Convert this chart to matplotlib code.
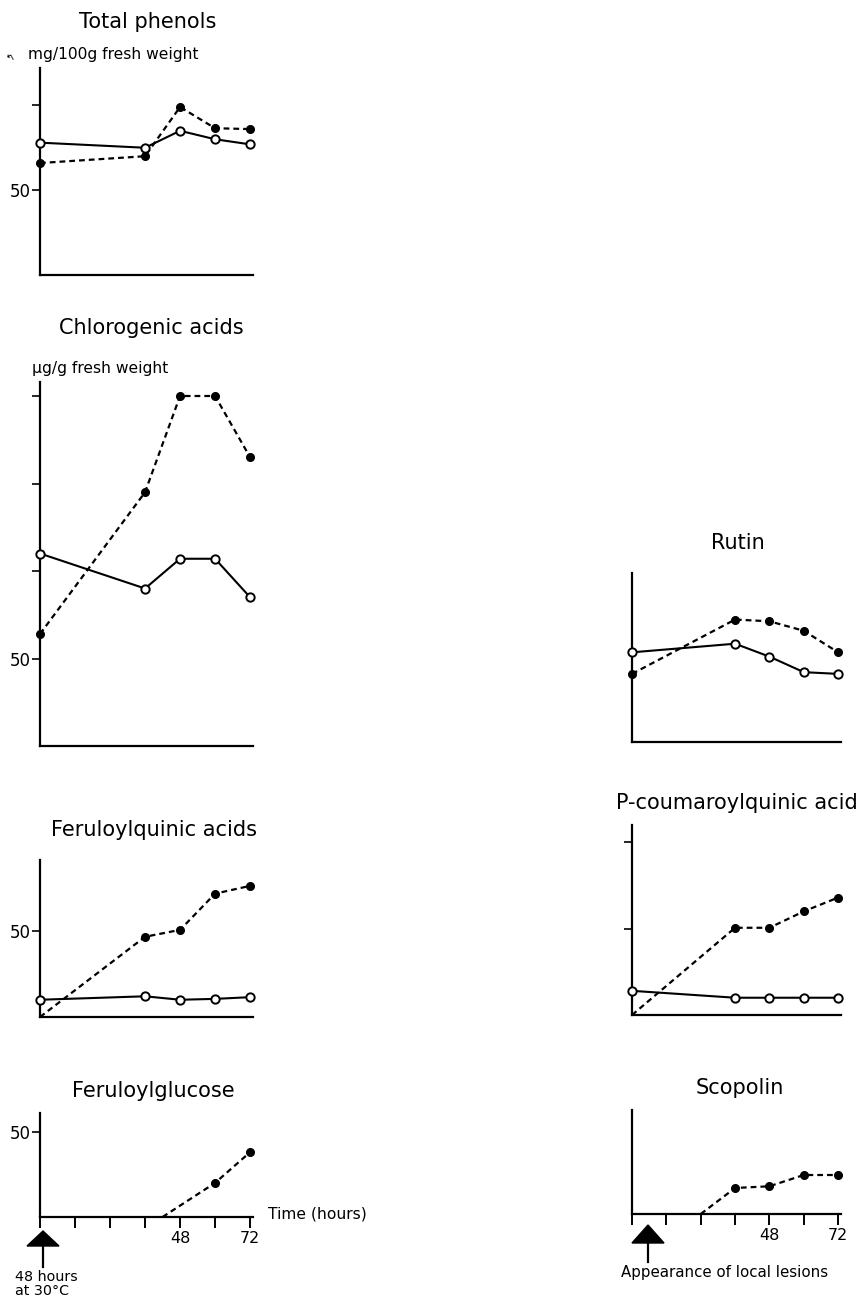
import matplotlib
matplotlib.use('Agg')
import matplotlib.pyplot as plt
from matplotlib.patches import Polygon

plt.rcParams['font.family'] = ['DejaVu Sans']

W, H = 866, 1300

# sampling times (hours)
times = [0, 36, 48, 60, 72]

# total phenols, mg/100g fresh weight
phenols_ctrl = [78, 75, 85, 80, 77]
phenols_inf = [66, 70, 99, 86.5, 86]

# chlorogenic acids, ug/g fresh weight
chloro_ctrl = [110, 90, 107, 107, 85]
chloro_inf = [64, 145, 200, 200, 165]

# feruloylquinic acids
ferq_ctrl = [10, 12, 10, 10.5, 11.5]
ferq_inf = [0, 46.5, 50.5, 71.5, 76]

# feruloylglucose
ferg_times = [42, 60, 72]
ferg_inf = [0, 20, 38]

# rutin
rutin_ctrl = [52, 57, 49.5, 40.5, 39.5]
rutin_inf = [39.5, 71, 70, 64.5, 52]

# p-coumaroylquinic acid
pcq_ctrl = [14, 10, 10, 10, 10]
pcq_inf = [0, 50.5, 50.5, 60, 68]

# scopolin
scop_times = [24, 36, 48, 60, 72]
scop_inf = [0, 15, 16, 22.5, 22.5]

time_ticks = [0, 12, 24, 36, 48, 60, 72]
time_labels = ['', '', '', '', '48', '', '72']

fig = plt.figure(figsize=(W / 100, H / 100), dpi=100)
fig.patch.set_facecolor('white')

TITLE = 15


def panel(left, top, bottom, xpx, ytop):
    ax = fig.add_axes([left / W, 1 - bottom / H, xpx / W, (bottom - top) / H])
    ax.set_xlim(0, 73)
    ax.set_ylim(0, ytop)
    for s in ('top', 'right'):
        ax.spines[s].set_visible(False)
    for s in ('left', 'bottom'):
        ax.spines[s].set_linewidth(1.6)
    ax.set_xticks([])
    ax.set_yticks([])
    ax.tick_params(axis='y', length=6, width=1.2, labelsize=12, pad=1)
    ax.patch.set_alpha(0)
    return ax


def ftext(x, y, s, **kw):
    fig.text(x / W, 1 - y / H, s, **kw)


def solid(ax, x, y):
    ax.plot(x, y, '-', color='black', lw=1.5, marker='o', ms=6,
            mfc='white', mec='black', mew=1.4, clip_on=False, zorder=4)


def dashed(ax, x, y, first_marker=True):
    ax.plot(x, y, color='black', lw=1.6, dashes=(2.6, 1.8), clip_on=False, zorder=3)
    xs, ys = (x, y) if first_marker else (x[1:], y[1:])
    ax.plot(xs, ys, 'o', color='black', ms=5.5, clip_on=False, zorder=5)


def time_axis(ax):
    ax.set_xticks(time_ticks)
    ax.set_xticklabels(time_labels)
    ax.tick_params(axis='x', length=8, width=1.4, direction='out', labelsize=11.5, pad=2)


LX, LW = 40, 213
RX, RW = 632, 209

# left column
ax1 = panel(LX, 68, 275, LW, 122)
solid(ax1, times, phenols_ctrl)
dashed(ax1, times, phenols_inf)
ax1.set_yticks([50, 100])
ax1.set_yticklabels(['50', ''])
ftext(148, 22, 'Total phenols', fontsize=TITLE, ha='center', va='center')
ftext(28, 55, 'mg/100g fresh weight', fontsize=11.2, ha='left', va='center')
ftext(10, 57, '\u21b0', fontsize=7, ha='center', va='center', rotation=30)

ax2 = panel(LX, 382, 746, LW, 208)
solid(ax2, times, chloro_ctrl)
dashed(ax2, times, chloro_inf)
ax2.set_yticks([50, 100, 150, 200])
ax2.set_yticklabels(['50', '', '', ''])
ftext(151, 328, 'Chlorogenic acids', fontsize=TITLE, ha='center', va='center')
ftext(32, 369, '\u00b5g/g fresh weight', fontsize=11.2, ha='left', va='center')

ax3 = panel(LX, 860, 1017, LW, 91)
solid(ax3, times, ferq_ctrl)
dashed(ax3, times, ferq_inf, first_marker=False)
ax3.set_yticks([50])
ax3.set_yticklabels(['50'])
ftext(154, 830, 'Feruloylquinic acids', fontsize=TITLE, ha='center', va='center')

ax4 = panel(LX, 1113, 1217, LW, 61)
dashed(ax4, ferg_times, ferg_inf, first_marker=False)
ax4.set_yticks([50])
ax4.set_yticklabels(['50'])
time_axis(ax4)
ftext(153, 1091, 'Feruloylglucose', fontsize=TITLE, ha='center', va='center')
ftext(268, 1214, 'Time (hours)', fontsize=11.2, ha='left', va='center')

# right column
ax5 = panel(RX, 573, 742, RW, 98)
solid(ax5, times, rutin_ctrl)
dashed(ax5, times, rutin_inf)
ftext(738, 543, 'Rutin', fontsize=TITLE, ha='center', va='center')

ax6 = panel(RX, 825, 1015, RW, 110)
solid(ax6, times, pcq_ctrl)
dashed(ax6, times, pcq_inf, first_marker=False)
ax6.set_yticks([50, 100])
ax6.set_yticklabels(['', ''])
ftext(737, 803, 'P-coumaroylquinic acid', fontsize=TITLE, ha='center', va='center')

ax7 = panel(RX, 1110, 1214, RW, 60)
dashed(ax7, scop_times, scop_inf, first_marker=False)
time_axis(ax7)
ftext(740, 1088, 'Scopolin', fontsize=TITLE, ha='center', va='center')

# arrows marking events, drawn on a full-figure overlay in pixel units
ov = fig.add_axes([0, 0, 1, 1])
ov.set_xlim(0, W)
ov.set_ylim(H, 0)
ov.axis('off')
ov.patch.set_alpha(0)

for cx, ytop, ybase, ystem in [(43, 1231, 1246, 1267), (648, 1225, 1243, 1262)]:
    ov.add_patch(Polygon([(cx - 16, ybase), (cx + 16, ybase), (cx, ytop)],
                         closed=True, facecolor='black', edgecolor='black'))
    ov.plot([cx, cx], [ybase, ystem], color='black', lw=1.6)

ftext(15, 1277, '48 hours', fontsize=10.3, ha='left', va='center')
ftext(15, 1291, 'at 30\u00b0C', fontsize=10.3, ha='left', va='center')
ftext(725, 1272, 'Appearance of local lesions', fontsize=10.8, ha='center', va='center')

fig.savefig('out.png', dpi=100, facecolor='white')
plt.close(fig)
